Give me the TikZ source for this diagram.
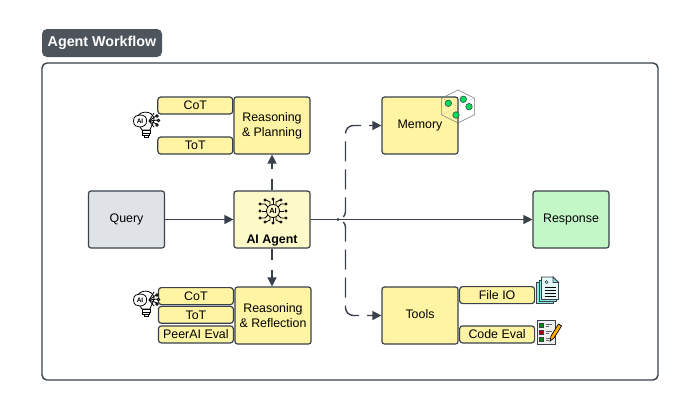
\documentclass[tikz,border=0pt]{standalone}
\usepackage{fontspec}
\setmainfont{Liberation Sans}
\usetikzlibrary{positioning,arrows.meta,calc}
\definecolor{inkc}{HTML}{3A414A}
\definecolor{yellowc}{HTML}{FFF4A3}
\definecolor{palec}{HTML}{FDF9C9}
\definecolor{greyc}{HTML}{DFE3E8}
\definecolor{greenc}{HTML}{C3F7C8}
\definecolor{dotc}{HTML}{00D95A}
\definecolor{tealc}{HTML}{8FE8E4}
\tikzset{
    block/.style={draw=inkc,line width=1.2pt,rounded corners=2.5pt,fill=yellowc,inner sep=0pt,
      minimum width=#1,text=black,align=center,font=\fontsize{12.4}{15}\selectfont},
    block/.default=76pt,
    bigbox/.style={block,minimum height=57pt},
    tag/.style={block=75pt,minimum height=17pt,rounded corners=3pt},
    link/.style={draw=inkc,line width=1.4pt,-{Triangle[length=9pt,width=9pt]}},
    shortdash/.style={link,dash pattern=on 11pt off 10pt},
    longdash/.style={link,rounded corners=8pt,dash pattern=on 20pt off 8pt,dash phase=21pt},
    thin icon/.style={draw=black,line width=0.8pt},
}
% lightbulb with the AI badge
\newcommand{\bulbicon}[1]{%
  \begin{scope}[shift={#1}]
    \draw[thin icon,fill=white] (0,7) .. controls (-3,2) and (-6,-1) .. (-5,-5)
      .. controls (-3,-13) and (11,-13) .. (12,-4) .. controls (12,0) and (9,3) .. (8,7) -- cycle;
    \draw[thin icon,fill=white] (0,7) rectangle (8,10);
    \draw[thin icon,fill=white] (0.5,10) rectangle (7.5,12.5);
    \draw[thin icon,fill=white] (2,12.5) rectangle (6,14.5);
    \foreach \xx/\yy in {14/-7,16/-3,15/1,12/-10,12/4}
      \draw[thin icon] (7,-2) -- (\xx,\yy);
    \foreach \xx/\yy in {15/-7,16.5/-2.5,15/2}
      \draw[thin icon,fill=white] (\xx,\yy) circle (1.3pt);
    \draw[thin icon,fill=white] (-8.5,-2) .. controls (-8.5,-7) and (-5,-8) .. (-2,-8)
      .. controls (2,-8) and (5,-6) .. (4.5,-2) .. controls (5,2) and (1,4) .. (-2,4)
      .. controls (-5,4) and (-8.5,3) .. (-8.5,-2) -- cycle;
    \node[font=\fontsize{6.5}{7}\selectfont\bfseries] (ailabel) at (-2,-2) {AI};
  \end{scope}}
\begin{document}
\begin{tikzpicture}[x=1pt,y=-1pt]
  \useasboundingbox (0,0) rectangle (700,410);
  \fill[white] (0,0) rectangle (700,410);
  % frame and title
  \node[draw=inkc,line width=1.4pt,rounded corners=5pt,minimum width=616pt,minimum height=317pt,inner sep=0pt] (frame) at (350,221.5) {};
  \node[fill=inkc!90!white,rounded corners=5pt,minimum width=120pt,minimum height=28pt,inner sep=0pt,text=white,font=\fontsize{14.3}{16}\selectfont\bfseries] (title) at (102,43) {Agent Workflow};
  % main row
  \node[bigbox,fill=greyc] (query) at (126.5,219.5) {Query};
  \node[bigbox,fill=palec] (agent) at (272,219.5) {};
  \node[font=\fontsize{12.4}{14}\selectfont\bfseries] (agentlabel) at (272,241) {AI Agent};
  \node[bigbox,fill=greenc] (response) at (571,219.5) {Response};
  % upper reasoning
  \node[bigbox] (planning) at (272,125.5) {Reasoning\\\& Planning};
  \node[tag,left=0pt of planning.north west,anchor=north east] (cota) {CoT};
  \node[tag,left=0pt of planning.south west,anchor=south east] (tota) {\raisebox{1.5pt}{ToT}};
  % lower reasoning
  \node[bigbox] (reflection) at (273,315.5) {\raisebox{1pt}{Reasoning}\\\raisebox{1pt}{\& Reflection}};
  \node[tag,anchor=north east] (cotb) at (234,287) {CoT};
  \node[tag,below=0.5pt of cotb] (totb) {ToT};
  \node[tag,anchor=south east] (peer) at (234,343.5) {PeerAI Eval};
  % memory and tools
  \node[bigbox] (memory) at (420,125.5) {\raisebox{2pt}{Memory}};
  \node[bigbox] (tools) at (420,315.5) {\raisebox{2.5pt}{Tools}};
  \node[tag,anchor=north west] (fileio) at (459,286) {File IO};
  \node[tag,anchor=south west] (codeeval) at (459,343.5) {Code Eval};
  % connectors
  \coordinate (split) at (338,219.5);
  \coordinate (turn) at (345.5,219.5);
  \draw[link] (query) -- (agent);
  \draw[link] (agent) -- (response);
  \draw[shortdash] (agent.north) -- (planning.south);
  \draw[shortdash] (agent.south) -- (agent.south |- reflection.north);
  \draw[longdash] (split) -- (turn) -- (turn |- memory.west) -- (memory.west);
  \draw[longdash] (split) -- (turn) -- (turn |- tools.west) -- (tools.west);
  \fill[inkc] (split) circle (1.6pt);
  % icons
  \bulbicon{(142,123)}
  \bulbicon{(142,302)}
  % chip icon in the agent box
  \begin{scope}[shift={(273,211)}]
    \draw[thin icon] (0,0) circle (6.5pt);
    \node[font=\fontsize{7.5}{8}\selectfont\bfseries] (chiplabel) at (0,0) {AI};
    \foreach \sx in {-1,1} {
      \draw[thin icon] (\sx*6.5,0) -- (\sx*11,0);
      \draw[thin icon] (\sx*5,-4) -- (\sx*8,-7) -- (\sx*12,-7);
      \draw[thin icon] (\sx*5,4) -- (\sx*8,7) -- (\sx*12,7);
      \draw[thin icon] (\sx*3,-6) -- (\sx*3,-9) -- (\sx*7,-11);
      \draw[thin icon] (\sx*3,6) -- (\sx*3,9) -- (\sx*7,11);
      \foreach \yy in {-7,0,7}
        \draw[thin icon,fill=palec] (\sx*13,\yy) circle (1.1pt);
      \foreach \yy in {-11,11}
        \draw[thin icon,fill=palec] (\sx*8,\yy) circle (1.1pt);
    }
    \draw[thin icon] (0,-6.5) -- (0,-11) (0,6.5) -- (0,11);
    \draw[thin icon,fill=palec] (0,-12) circle (1.1pt) (0,12) circle (1.1pt);
  \end{scope}
  % hexagon in the memory corner
  \begin{scope}[shift={(458,106.5)}]
    \draw[draw=inkc!70,line width=0.5pt] (0,-16.5) -- (16.5,-8.25) -- (16.5,8.25) -- (0,16.5) -- (-16.5,8.25) -- (-16.5,-8.25) -- cycle;
    \draw[draw=inkc!70,line width=0.5pt,dotted] (0,0) -- (0,16.5) (0,0) -- (-16.5,-8.25) (0,0) -- (16.5,-8.25) (0,0) -- (-16.5,8.25);
    \foreach \dotx/\doty in {-9.7/-3.2,5.3/-7.2,11/0.2,-2/8.5}
      \draw[inkc,line width=0.5pt,fill=dotc] (\dotx,\doty) circle (3.3pt);
  \end{scope}
  % document icon
  \begin{scope}[shift={(547,290)}]
    \draw[inkc,line width=0.9pt,fill=tealc] (-11,-8) rectangle (6,13.5);
    \draw[inkc,line width=0.9pt,fill=tealc] (-8,-10) rectangle (9,11.5);
    \draw[inkc,line width=0.9pt,fill=tealc!25] (-5.5,-13) -- (6,-13) -- (11.5,-7.5) -- (11.5,9.5) -- (-5.5,9.5) -- cycle;
    \draw[inkc,line width=0.9pt,fill=tealc] (6,-13) -- (6,-7.5) -- (11.5,-7.5) -- cycle;
    \draw[inkc,line width=0.7pt] (-0.5,-8) circle (1.5pt);
    \foreach \yy in {-3,0,3,6}
      \draw[black,line width=1pt] (-2.5,\yy) -- (8.5,\yy);
  \end{scope}
  % checklist icon
  \begin{scope}[shift={(546,332)}]
    \draw[inkc,line width=0.9pt,fill=black!6] (-9,-12) rectangle (9,12);
    \foreach \yy/\cc in {-7/green!55!black,0/red!65!black,7/green!55!black} {
      \draw[inkc,fill=\cc,line width=0.5pt] (-7,\yy-2.2) rectangle (-2.5,\yy+2.2);
      \draw[inkc!80,line width=1pt] (-0.5,\yy-1) -- (6,\yy-1) (-0.5,\yy+1.5) -- (3,\yy+1.5);
    }
    \draw[black,line width=0.7pt,fill=orange!60!yellow] (4,9) -- (5,4) -- (12.5,-8) -- (15.5,-6) -- (8,6) -- cycle;
  \end{scope}
\end{tikzpicture}
\end{document}
